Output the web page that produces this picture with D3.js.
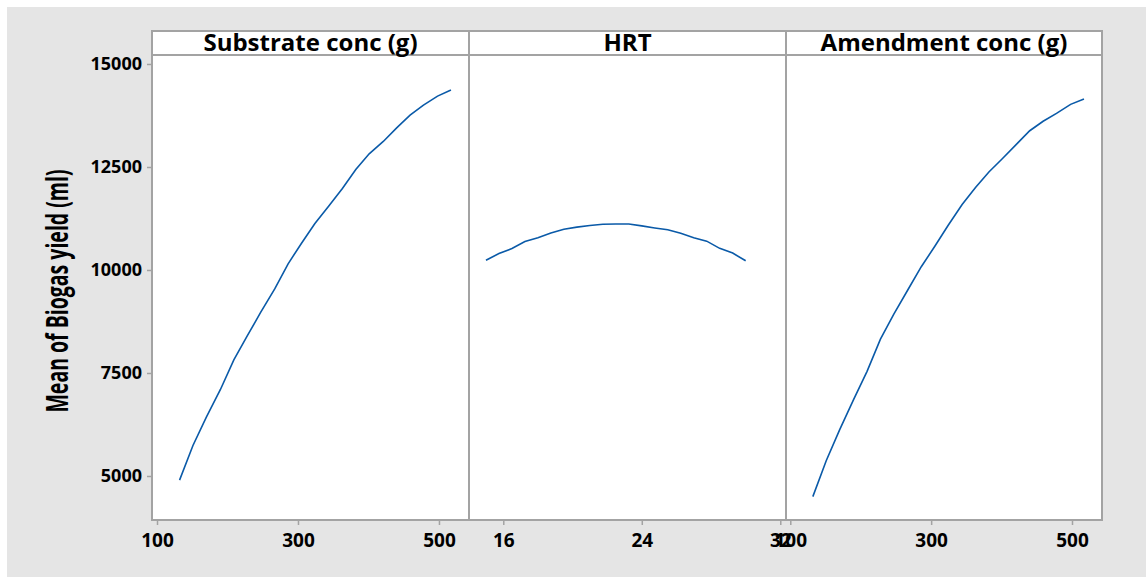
<!DOCTYPE html>
<html>
<head>
<meta charset="utf-8">
<script src="https://cdn.jsdelivr.net/npm/d3@7/dist/d3.min.js"></script>
<style>
  html, body { margin: 0; padding: 0; background: #fff; }
  svg { display: block; }
  .tick text { font-family: "Open Sans", sans-serif; font-weight: 700; fill: #000; }
</style>
</head>
<body>
<div id="chart"></div>
<script>
// Main effects plot for Biogas yield

const yTicks = [5000, 7500, 10000, 12500, 15000];

const panelTitles = ['Substrate conc (g)', 'HRT', 'Amendment conc (g)'];
const concTicks = [100, 300, 500];
const hrtTicks = [16, 24, 32];

const substrateX = [132, 151, 170, 190, 209, 228, 247, 267, 286, 305, 324, 344, 363, 382, 401, 421, 440, 459, 478, 498, 517];
const substrateY = [4900, 5740, 6430, 7100, 7820, 8400, 8970, 9540, 10150, 10650, 11130, 11560, 11980, 12440, 12820, 13120, 13450, 13760, 14000, 14220, 14370];

const hrtX = [15, 15.75, 16.5, 17.25, 18, 18.75, 19.5, 20.25, 21, 21.75, 22.5, 23.25, 24, 24.75, 25.5, 26.25, 27, 27.75, 28.5, 29.25, 30];
const hrtY = [10235, 10400, 10520, 10690, 10780, 10900, 10990, 11040, 11080, 11110, 11115, 11115, 11070, 11020, 10975, 10890, 10780, 10700, 10525, 10410, 10225];

const amendX = [132, 151, 170, 190, 209, 228, 247, 267, 286, 305, 324, 344, 363, 382, 401, 421, 440, 459, 478, 498, 517];
const amendY = [4500, 5370, 6120, 6860, 7540, 8320, 8930, 9520, 10080, 10570, 11080, 11590, 12000, 12380, 12700, 13050, 13380, 13610, 13800, 14020, 14150];

const width = 1146, height = 577;
const frameTop = 31, headerBottom = 55, frameBottom = 520;
const lineColor = '#0a5aa8';
const frameColor = '#a3a3a3';

const panels = [
    { title: panelTitles[0], x0: 152, x1: 469, domain: [92.9, 542.6], ticks: concTicks, xs: substrateX, ys: substrateY },
    { title: panelTitles[1], x0: 469, x1: 786, domain: [14.02, 32.33], ticks: hrtTicks, xs: hrtX, ys: hrtY },
    { title: panelTitles[2], x0: 786, x1: 1102, domain: [93.9, 542.6], ticks: concTicks, xs: amendX, ys: amendY }
];

const svg = d3.select('#chart')
    .append('svg')
    .attr('width', width)
    .attr('height', height);

// Background
svg.append('rect')
    .attr('x', 7).attr('y', 7)
    .attr('width', width - 7).attr('height', height - 7)
    .attr('fill', '#e5e5e5');

const y = d3.scaleLinear()
    .domain([3932, 15218])
    .range([frameBottom, headerBottom]);

// Panels
panels.forEach(p => {
    const x = d3.scaleLinear().domain(p.domain).range([p.x0, p.x1]);
    const g = svg.append('g');

    g.append('rect')
        .attr('x', p.x0).attr('y', frameTop)
        .attr('width', p.x1 - p.x0).attr('height', frameBottom - frameTop)
        .attr('fill', '#fff');

    // x axis
    const xa = svg.append('g')
        .attr('transform', `translate(0,${frameBottom})`)
        .call(d3.axisBottom(x).tickValues(p.ticks).tickSize(5).tickPadding(9).tickFormat(d3.format('d')));
    xa.select('.domain').remove();
    xa.selectAll('.tick line').attr('stroke', frameColor).attr('stroke-width', 1.5);
    xa.selectAll('.tick text').style('font-size', '19px');

    // curve
    const pts = p.xs.map((v, i) => [v, p.ys[i]]);
    g.append('path')
        .datum(pts)
        .attr('fill', 'none')
        .attr('stroke', lineColor)
        .attr('stroke-width', 1.6)
        .attr('d', d3.line().x(d => x(d[0])).y(d => y(d[1])));

    // frame and header strip
    g.append('rect')
        .attr('x', p.x0).attr('y', frameTop)
        .attr('width', p.x1 - p.x0).attr('height', frameBottom - frameTop)
        .attr('fill', 'none')
        .attr('stroke', frameColor)
        .attr('stroke-width', 2);
    g.append('line')
        .attr('x1', p.x0).attr('x2', p.x1)
        .attr('y1', headerBottom).attr('y2', headerBottom)
        .attr('stroke', frameColor)
        .attr('stroke-width', 2);

    g.append('text')
        .attr('x', (p.x0 + p.x1) / 2)
        .attr('y', headerBottom - 4)
        .attr('text-anchor', 'middle')
        .style('font-family', '"Open Sans", sans-serif')
        .style('font-weight', '700')
        .style('font-size', '24px')
        .text(p.title);
});

// y axis
const ya = svg.append('g')
    .attr('transform', `translate(${panels[0].x0},0)`)
    .call(d3.axisLeft(y).tickValues(yTicks).tickSize(5).tickPadding(5).tickFormat(d3.format('d')));
ya.select('.domain').remove();
ya.selectAll('.tick line').attr('stroke', frameColor).attr('stroke-width', 1.5);
ya.selectAll('.tick text').style('font-size', '18px');

// y title: tall, narrow lettering as in the original
svg.append('text')
    .attr('transform', `translate(68,291) rotate(-90) scale(1,1.6)`)
    .attr('text-anchor', 'middle')
    .style('font-family', '"Open Sans", sans-serif')
    .style('font-weight', '700')
    .style('font-size', '19.5px')
    .text('Mean of Biogas yield (ml)');
</script>
</body>
</html>
